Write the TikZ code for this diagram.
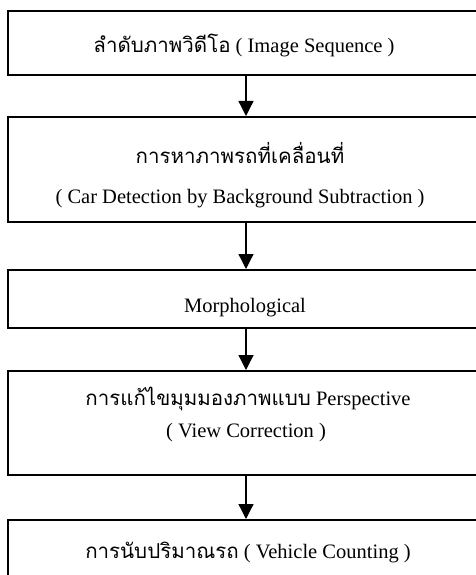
\documentclass[tikz,border=0pt]{standalone}
\usepackage{fontspec}
\setmainfont{Liberation Serif}
\newfontfamily\thaifont[Script=Thai]{Loma}
\usetikzlibrary{arrows.meta}

\begin{document}
\begin{tikzpicture}[x=1pt,y=-1pt,
        stepbox/.style={draw, line width=2pt, minimum width=476pt, inner sep=0pt},
        steptext/.style={anchor=base, inner sep=0pt, font=\fontsize{20.5}{24}\selectfont},
        flow/.style={line width=1.3pt, -{Triangle[length=15pt,width=15pt]}}]
        \useasboundingbox (0,0) rectangle (476,575);

        % Boxes
        \node[stepbox, minimum height=64pt] (seq) at (246,43) {};
        \node[stepbox, minimum height=105pt] (detect) at (246,169.5) {};
        \node[stepbox, minimum height=58pt] (morph) at (246,299) {};
        \node[stepbox, minimum height=104pt] (view) at (246,423) {};
        \node[stepbox, minimum height=64pt] (count) at (246,552) {};

        % Titles
        \node[steptext] (seqtxt) at (244,53) {{\thaifont ลำดับภาพวิดีโอ} ( Image Sequence )};
        \node[steptext] (detecttxt) at (240,163) {\thaifont การหาภาพรถที่เคลื่อนที่};
        \node[steptext] (detectsub) at (240,203) {( Car Detection by Background Subtraction )};
        \node[steptext] (morphtxt) at (245,312) {Morphological};
        \node[steptext] (viewtxt) at (248,405) {{\thaifont การแก้ไขมุมมองภาพแบบ} Perspective};
        \node[steptext] (viewsub) at (246,437) {( View Correction )};
        \node[steptext] (counttxt) at (248,558) {{\thaifont การนับปริมาณรถ} ( Vehicle Counting )};

        % Arrows
        \draw[flow] (seq) -- (detect);
        \draw[flow] (detect) -- (morph);
        \draw[flow] (morph) -- (view);
        \draw[flow] (view) -- (count);
\end{tikzpicture}
\end{document}
